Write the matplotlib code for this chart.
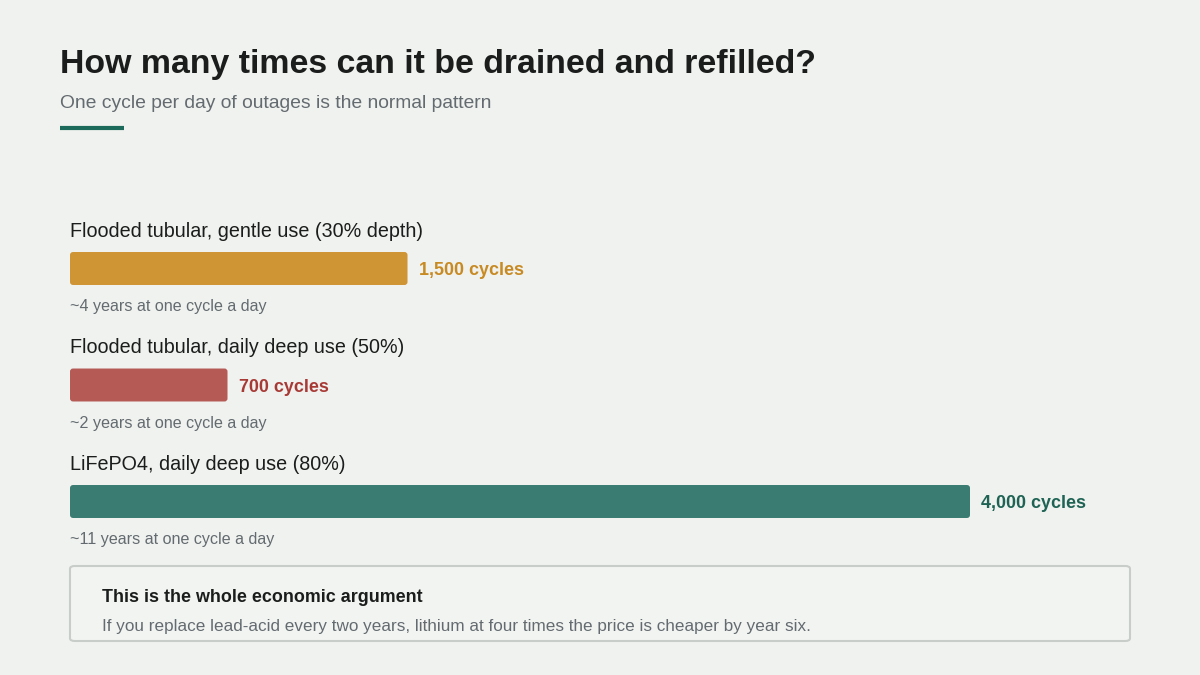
import matplotlib.pyplot as plt
from matplotlib.patches import FancyBboxPatch

plt.rcParams['font.family'] = ['Liberation Sans', 'DejaVu Sans']

labels = ['Flooded tubular, gentle use (30% depth)',
          'Flooded tubular, daily deep use (50%)',
          'LiFePO4, daily deep use (80%)']
cycles = [1500, 700, 4000]
notes = ['~4 years at one cycle a day',
         '~2 years at one cycle a day',
         '~11 years at one cycle a day']
bar_colors = ['#cf9434', '#b55a55', '#3a7c72']
text_colors = ['#c88a22', '#a83a36', '#1e6354']

W, H = 1200, 675
bg = '#f0f2ef'

fig = plt.figure(figsize=(12, 6.75), dpi=100, facecolor=bg)

def px(x, y):
    return x / W, 1 - y / H

# title block
fig.text(*px(60, 64), 'How many times can it be drained and refilled?',
         fontsize=24.4, fontweight='bold', color='#1b1d1c', va='center', ha='left')
fig.text(*px(60, 103), 'One cycle per day of outages is the normal pattern',
         fontsize=13.9, color='#646b70', va='center', ha='left')
fig.add_artist(plt.Line2D([60 / W, 124 / W], [1 - 127.5 / H] * 2,
                          color='#1c6b5a', lw=3, solid_capstyle='butt'))

# bar axes: 0..4000 cycles maps to x 70..970 px, rows centred at 268.5 + 116.5*i
top_px, bot_px = 268.5 - 0.5 * 116.5, 268.5 + 2.5 * 116.5
ax = fig.add_axes([70 / W, 1 - bot_px / H, 900 / W, (bot_px - top_px) / H])
ax.set_facecolor('none')
ax.set_xlim(0, 4000)
ax.set_ylim(2.5, -0.5)
ax.axis('off')

rows = list(range(len(cycles)))
bars = ax.barh(rows, cycles, height=0.283, color=bar_colors)

# swap the plain rectangles for slightly rounded ones
x_per_px = 4000 / 900
y_per_px = 3 / (bot_px - top_px)
for b in bars:
    x0, y0, w, h = b.get_x(), b.get_y(), b.get_width(), b.get_height()
    rp = FancyBboxPatch((x0, y0), w, h,
                        boxstyle=f'round,pad=0,rounding_size={3 * x_per_px}',
                        mutation_aspect=y_per_px / x_per_px,
                        facecolor=b.get_facecolor(), edgecolor='none')
    b.set_visible(False)
    ax.add_patch(rp)

for i, (lab, val, note) in enumerate(zip(labels, cycles, notes)):
    ax.text(0, i - 0.32, lab, fontsize=14.2, color='#1b1d1c', va='center', ha='left')
    ax.text(0, i + 0.33, note, fontsize=11.6, color='#646b70', va='center', ha='left')
    ax.annotate(f'{val:,} cycles', (val, i), xytext=(8, -1.5),
                textcoords='offset points', fontsize=12.9, fontweight='bold',
                color=text_colors[i], va='center', ha='left')

# callout box
box = FancyBboxPatch((70 / W, 1 - 641 / H), 1060 / W, 75 / H,
                     boxstyle='round,pad=0,rounding_size=0.004',
                     transform=fig.transFigure, facecolor='#f2f4f1',
                     edgecolor='#c9cdca', lw=1.5)
fig.add_artist(box)
fig.text(*px(102, 598), 'This is the whole economic argument',
         fontsize=12.9, fontweight='bold', color='#1b1d1c', va='center', ha='left')
fig.text(*px(102, 627),
         'If you replace lead-acid every two years, lithium at four times the price is cheaper by year six.',
         fontsize=12.3, color='#646b70', va='center', ha='left')

fig.savefig('out.png', dpi=100, facecolor=bg)
